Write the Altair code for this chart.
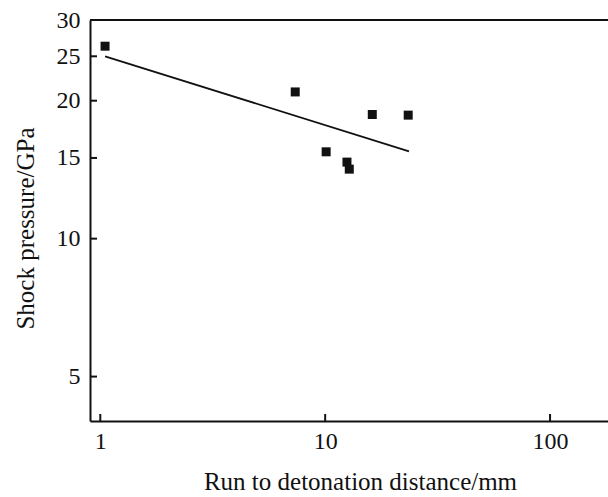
import altair as alt
import pandas as pd

# Data
run_distance = [1.05, 7.36, 10.1, 12.5, 12.8, 16.2, 23.4]
shock_pressure = [26.3, 20.9, 15.47, 14.69, 14.18, 18.66, 18.6]

fit_distance = [1.05, 23.6]
fit_pressure = [25.0, 15.5]

x_ticks = [1, 10, 100]
y_ticks = [5, 10, 15, 20, 25, 30]

W, H = 518, 401
FONT = "Liberation Serif"

xs = alt.Scale(type="log", domain=[0.9, 181], nice=False)
ys = alt.Scale(type="log", domain=[4, 30], nice=False)

pts = pd.DataFrame({"x": run_distance, "y": shock_pressure})
fit = pd.DataFrame({"x": fit_distance, "y": fit_pressure})
xt = pd.DataFrame({"x": x_ticks})
yt = pd.DataFrame({"y": y_ticks})

x_axis = alt.Axis(
    values=x_ticks, format="d", ticks=False, grid=False,
    domainColor="#111", domainWidth=2,
    labelFont=FONT, labelFontSize=24, labelColor="#111", labelPadding=8,
    title="Run to detonation distance/mm", titleFont=FONT, titleFontSize=25,
    titleFontWeight="normal", titleColor="#111",
    titleX=270, titleY=68, titleBaseline="alphabetic", titleAnchor="middle",
)
y_axis = alt.Axis(
    values=y_ticks, format="d", ticks=False, grid=False,
    domainColor="#111", domainWidth=2,
    labelFont=FONT, labelFontSize=24, labelColor="#111", labelPadding=10,
    title="Shock pressure/GPa", titleFont=FONT, titleFontSize=25,
    titleFontWeight="normal", titleColor="#111",
    titleX=-57, titleY=208, titleBaseline="alphabetic", titleAngle=-90,
    titleAlign="center", titleAnchor="middle",
)

X = alt.X("x:Q", scale=xs, axis=x_axis)
Y = alt.Y("y:Q", scale=ys, axis=y_axis)

points = alt.Chart(pts).mark_point(
    shape="square", filled=True, size=81, color="#111", opacity=1
).encode(x=X, y=Y)

line = alt.Chart(fit).mark_line(color="#111", strokeWidth=1.8).encode(x=X, y=Y)

xtick = alt.Chart(xt).mark_rule(color="#111", strokeWidth=2).encode(
    x=X, y=alt.value(H), y2=alt.value(H - 7),
)

ytick = alt.Chart(yt).mark_rule(color="#111", strokeWidth=2).encode(
    y=Y, x=alt.value(0), x2=alt.value(7),
)

top = alt.Chart(pd.DataFrame({"a": [0]})).mark_rule(color="#111", strokeWidth=2).encode(
    x=alt.value(0), x2=alt.value(W), y=alt.value(0)
)

chart = alt.layer(points, line, xtick, ytick, top).properties(
    width=W, height=H,
    autosize=alt.AutoSizeParams(type="none"),
    padding={"left": 90, "top": 20, "right": 0, "bottom": 76},
    background="white",
).configure_view(stroke=None)

chart.save("out.html", embed_options={"renderer": "svg", "actions": False})
